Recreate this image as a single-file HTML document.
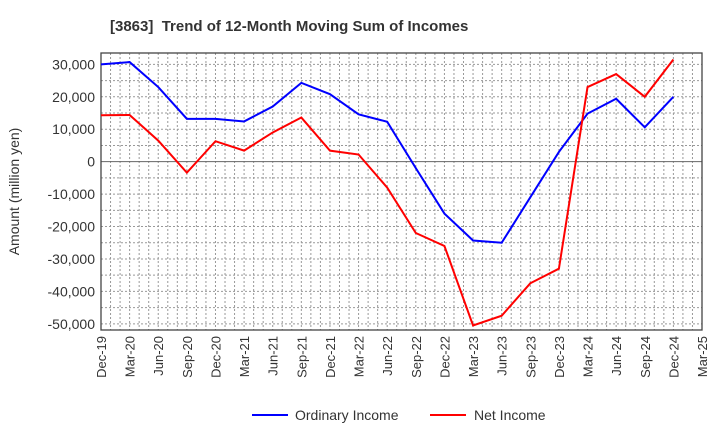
<!DOCTYPE html>
<html><head><meta charset="utf-8"><style>
body{margin:0;background:#fff;font-family:"Liberation Sans",sans-serif}
</style></head><body>
<svg id="chart" width="720" height="440" xmlns="http://www.w3.org/2000/svg" font-family="Liberation Sans, sans-serif">
<text x="110" y="31" font-size="15" font-weight="bold" fill="#333">[3863]&#160; Trend of 12-Month Moving Sum of Incomes</text>
<g id="grid"></g><g id="axes"></g><g id="series"></g>
<g>
<line x1="252" y1="415" x2="288" y2="415" stroke="#0000ff" stroke-width="2"/>
<text x="295" y="420" font-size="14" fill="#333">Ordinary Income</text>
<line x1="430" y1="415" x2="466" y2="415" stroke="#ff0000" stroke-width="2"/>
<text x="474" y="420" font-size="14" fill="#333">Net Income</text>
</g>
</svg>
<script>
const categories=["Dec-19","Mar-20","Jun-20","Sep-20","Dec-20","Mar-21","Jun-21","Sep-21","Dec-21","Mar-22","Jun-22","Sep-22","Dec-22","Mar-23","Jun-23","Sep-23","Dec-23","Mar-24","Jun-24","Sep-24","Dec-24","Mar-25"];
const ordinaryIncome=[30000,30700,23000,13200,13200,12400,17000,24300,20800,14600,12300,-2000,-16000,-24300,-25000,-11000,3000,14800,19400,10600,20000];
const netIncome=[14300,14400,6500,-3400,6300,3400,9000,13600,3400,2200,-8000,-22000,-26000,-50500,-47500,-37500,-33000,23000,27000,20000,31500];
const yTicks=[30000,20000,10000,0,-10000,-20000,-30000,-40000,-50000];
const yTickLabels=["30,000","20,000","10,000","0","-10,000","-20,000","-30,000","-40,000","-50,000"];

const NS="http://www.w3.org/2000/svg";
const L=101,R=702,T=53,B=330,yMax=33500,yMin=-51900;
const xs=i=>L+i*(R-L)/(categories.length-1);
const ys=v=>T+(yMax-v)/(yMax-yMin)*(B-T);
function mk(tag,attrs,parent){const e=document.createElementNS(NS,tag);for(const k in attrs)e.setAttribute(k,attrs[k]);parent.appendChild(e);return e;}
const grid=document.getElementById('grid'),axes=document.getElementById('axes'),series=document.getElementById('series');
for(let m=1;m<(categories.length-1)*3;m++){const x=L+m*(R-L)/((categories.length-1)*3);
const l=mk('line',{x1:x,x2:x,y1:T,y2:B,stroke:'#999','stroke-dasharray':'2,2','stroke-width':1},grid);

}
for(let v=-50000;v<=30000;v+=5000){const y=ys(v);
const l=mk('line',{x1:L,x2:R,y1:y,y2:y,stroke:v===0?'#666':'#999','stroke-dasharray':v===0?'none':'2,2','stroke-width':1},grid);

}
const frame=mk('rect',{x:L,y:T,width:R-L,height:B-T,fill:'none',stroke:'#444','stroke-width':1.3},axes);


yTicks.forEach((v,i)=>{const t=mk('text',{x:L-6,y:ys(v)+5,'text-anchor':'end','font-size':14,fill:'#333'},axes);t.textContent=yTickLabels[i];

});
categories.forEach((c,i)=>{const x=xs(i);const t=mk('text',{x:x+5,y:B+6,'text-anchor':'end','font-size':13,fill:'#333',transform:`rotate(-90 ${x+5} ${B+6})`},axes);t.textContent=c;

});
const yt=mk('text',{x:19,y:(T+B)/2,'text-anchor':'middle','font-size':14,fill:'#333',transform:`rotate(-90 19 ${(T+B)/2})`},axes);yt.textContent='Amount (million yen)';


function line(arr,color,name){const p=mk('polyline',{points:arr.map((v,i)=>xs(i)+','+ys(v)).join(' '),fill:'none',stroke:color,'stroke-width':2},series);

}
line(ordinaryIncome,'#0000ff','ordinary-income-line');
line(netIncome,'#ff0000','net-income-line');
</script>
</body></html>
